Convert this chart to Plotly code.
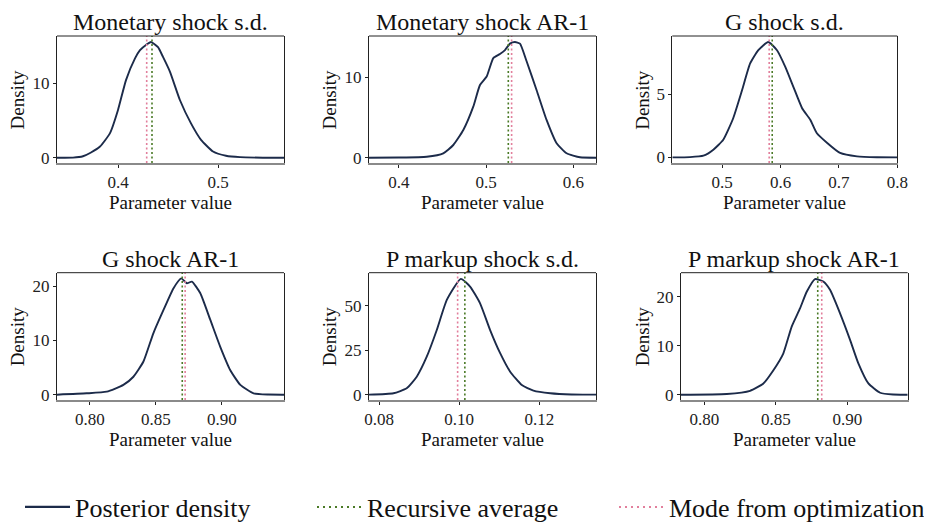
import plotly.graph_objects as go

# ---------------- data ----------------
titles = ["Monetary shock s.d.", "Monetary shock AR-1", "G shock s.d.",
          "G shock AR-1", "P markup shock s.d.", "P markup shock AR-1"]

mon_sd_x = [0.339, 0.355, 0.365, 0.373, 0.382, 0.392, 0.400, 0.408, 0.417, 0.422, 0.428, 0.433,
            0.440, 0.445, 0.452, 0.462, 0.473, 0.483, 0.495, 0.508, 0.522, 0.545, 0.566]
mon_sd_y = [0.0, 0.02, 0.2, 0.7, 1.5, 3.3, 6.4, 10.4, 13.3, 14.4, 15.1, 15.5,
            14.8, 13.5, 11.5, 7.7, 4.6, 2.4, 0.84, 0.27, 0.08, 0.01, 0.0]

mon_ar_x = [0.3656, 0.40, 0.4318, 0.4508, 0.4623, 0.4738, 0.4852, 0.4929, 0.5006, 0.5082, 0.5158,
            0.5216, 0.5273, 0.5330, 0.5388, 0.5464, 0.5579, 0.5693, 0.5808, 0.5923, 0.6076, 0.626]
mon_ar_y = [0.0, 0.02, 0.12, 0.55, 1.58, 3.45, 6.35, 9.05, 10.1, 12.4, 12.9,
            13.4, 14.2, 14.4, 14.2, 12.0, 8.4, 4.7, 1.8, 0.55, 0.05, 0.0]

g_sd_x = [0.4147, 0.445, 0.468, 0.485, 0.502, 0.519, 0.534, 0.548, 0.562, 0.579, 0.594,
          0.608, 0.622, 0.637, 0.651, 0.662, 0.680, 0.702, 0.731, 0.765, 0.800]
g_sd_y = [0.0, 0.02, 0.13, 0.61, 1.40, 3.1, 5.3, 7.45, 8.5, 9.15, 8.5,
          7.2, 5.6, 3.9, 2.98, 1.93, 1.14, 0.35, 0.08, 0.01, 0.0]

g_ar_x = [0.775, 0.7975, 0.8127, 0.8253, 0.8329, 0.8405, 0.848, 0.8557, 0.8633, 0.8691,
          0.8734, 0.8772, 0.8835, 0.8911, 0.8987, 0.9063, 0.9139, 0.924, 0.935, 0.947]
g_ar_y = [0.0, 0.25, 0.55, 1.8, 3.3, 6.1, 11.3, 15.6, 19.6, 21.4,
          20.5, 20.8, 18.7, 13.8, 8.8, 4.5, 1.8, 0.25, 0.02, 0.0]

p_sd_x = [0.0775, 0.0836, 0.0869, 0.0894, 0.0919, 0.0944, 0.0969, 0.1004, 0.1027, 0.1052,
          0.1077, 0.1102, 0.1127, 0.1156, 0.1185, 0.1227, 0.128, 0.1341]
p_sd_y = [0.0, 0.8, 3.6, 10.1, 21.3, 36.3, 53.2, 65.0, 60.7, 51.3,
          36.3, 23.3, 12.9, 5.4, 2.3, 0.8, 0.1, 0.0]

p_ar_x = [0.7837, 0.8157, 0.832, 0.8413, 0.8483, 0.8552, 0.8611, 0.8669, 0.8716, 0.8774,
          0.8832, 0.8879, 0.8949, 0.9019, 0.9077, 0.9147, 0.9229, 0.932, 0.9422]
p_ar_y = [0.0, 0.15, 0.8, 2.3, 5.0, 8.4, 13.9, 17.6, 21.0, 23.6,
          23.1, 21.4, 16.6, 11.2, 6.4, 2.3, 0.4, 0.03, 0.0]

recursive_avg = [0.434, 0.5254, 0.5858, 0.8699, 0.1014, 0.8793]
mode_opt = [0.4287, 0.5292, 0.5806, 0.8721, 0.0996, 0.8821]

x_ranges = [[0.339, 0.566], [0.3656, 0.626], [0.4147, 0.8],
            [0.775, 0.947], [0.0775, 0.1341], [0.7837, 0.9422]]
y_ranges = [[-0.7, 16.3], [-0.66, 15.15], [-0.45, 9.63],
            [-0.98, 22.45], [-3.0, 68.5], [-1.08, 24.9]]

x_tickvals = [[0.4, 0.5], [0.4, 0.5, 0.6], [0.5, 0.6, 0.7, 0.8],
              [0.80, 0.85, 0.90], [0.08, 0.10, 0.12], [0.80, 0.85, 0.90]]
x_ticktext = [["0.4", "0.5"], ["0.4", "0.5", "0.6"], ["0.5", "0.6", "0.7", "0.8"],
              ["0.80", "0.85", "0.90"], ["0.08", "0.10", "0.12"], ["0.80", "0.85", "0.90"]]
y_tickvals = [[0, 10], [0, 10], [0, 5], [0, 10, 20], [0, 25, 50], [0, 10, 20]]
y_ticktext = [["0", "10"], ["0", "10"], ["0", "5"], ["0", "10", "20"], ["0", "25", "50"], ["0", "10", "20"]]

series_x = [mon_sd_x, mon_ar_x, g_sd_x, g_ar_x, p_sd_x, p_ar_x]
series_y = [mon_sd_y, mon_ar_y, g_sd_y, g_ar_y, p_sd_y, p_ar_y]

legend_names = ["Posterior density", "Recursive average", "Mode from optimization"]

# ---------------- style ----------------
NAVY = "#1c2b4a"
GREEN = "#4a7a26"
PINK = "#e27f9c"
FONT = "Liberation Serif"
OFF = 8                      # default page margin of the html body
W, H = 932 - OFF, 522 - OFF  # figure fits the window inside that margin

# pixel layout of the axes boxes (window coordinates)
x_dom_px = [(57, 284), (369, 596), (672.3, 897.3), (57, 284), (369, 596), (681, 907.7)]
y_dom_px = [(36, 163)] * 3 + [(272.7, 400)] * 3
density_shift = [40, 40, 30, 40, 40, 39]
legend_x_px = [20, 312, 614]
legend_y_px = 507

fig = go.Figure()
layout = dict()
annotations = []
shapes = []

for i in range(6):
    n = i + 1
    xa = "x" if n == 1 else f"x{n}"
    ya = "y" if n == 1 else f"y{n}"
    fig.add_trace(go.Scatter(
        x=series_x[i], y=series_y[i], mode="lines",
        line=dict(color=NAVY, width=1.9, shape="spline", smoothing=0.5),
        xaxis=xa, yaxis=ya, showlegend=False, hoverinfo="skip"))

    # vertical reference lines
    for val, col in ((recursive_avg[i], GREEN), (mode_opt[i], PINK)):
        shapes.append(dict(type="line", xref=xa, yref=f"{ya} domain",
                           x0=val, x1=val, y0=0, y1=1,
                           line=dict(color=col, width=1.6, dash="2px,2.5px")))
    # top spine
    shapes.append(dict(type="line", xref=f"{xa} domain", yref=f"{ya} domain",
                       x0=0, x1=1, y0=1, y1=1, line=dict(color="#222222", width=1)))

    xd = [(x_dom_px[i][0] - OFF) / W, (x_dom_px[i][1] - OFF) / W]
    yd = [1 - (y_dom_px[i][1] - OFF) / H, 1 - (y_dom_px[i][0] - OFF) / H]
    axis_common = dict(showgrid=False, zeroline=False, ticks="outside", ticklen=3,
                       tickwidth=1, tickcolor="#222222",
                       tickfont=dict(family=FONT, size=17, color="#222222"))
    layout[f"xaxis{'' if n == 1 else n}"] = dict(
        domain=xd, range=x_ranges[i], anchor=ya,
        tickvals=x_tickvals[i], ticktext=x_ticktext[i],
        showline=True, linecolor="#8a8a8a", linewidth=2, mirror=False,
        **axis_common)
    layout[f"yaxis{'' if n == 1 else n}"] = dict(
        domain=yd, range=y_ranges[i], anchor=xa,
        tickvals=y_tickvals[i], ticktext=y_ticktext[i],
        showline=True, linecolor="#222222", linewidth=1, mirror=True,
        **axis_common)

    annotations.append(dict(text=titles[i], xref=f"{xa} domain", yref=f"{ya} domain",
                            x=0.5, y=1, yshift=14, xanchor="center", yanchor="middle",
                            showarrow=False, font=dict(family=FONT, size=24, color="#111111")))
    annotations.append(dict(text="Parameter value", xref=f"{xa} domain", yref=f"{ya} domain",
                            x=0.5, y=0, yshift=-39, xanchor="center", yanchor="middle",
                            showarrow=False, font=dict(family=FONT, size=19, color="#111111")))
    annotations.append(dict(text="Density", xref=f"{xa} domain", yref=f"{ya} domain",
                            x=0, y=0.5, xshift=-density_shift[i], xanchor="center",
                            yanchor="middle", textangle=-90,
                            showarrow=False, font=dict(family=FONT, size=19, color="#111111")))

# legend entries, one legend box each so they can sit where the reference has them
fig.add_trace(go.Scatter(x=[None], y=[None], mode="lines", name=legend_names[0],
                         line=dict(color=NAVY, width=2.2), legend="legend"))
fig.add_trace(go.Scatter(x=[None], y=[None], mode="lines", name=legend_names[1],
                         line=dict(color=GREEN, width=2, dash="2px,4px"), legend="legend2"))
fig.add_trace(go.Scatter(x=[None], y=[None], mode="lines", name=legend_names[2],
                         line=dict(color=PINK, width=2, dash="2px,4px"), legend="legend3"))

leg_common = dict(orientation="h", xanchor="left", xref="container", yref="container",
                  y=1 - (legend_y_px - OFF) / H, yanchor="middle",
                  font=dict(family=FONT, size=26, color="#111111"),
                  bgcolor="rgba(0,0,0,0)", itemwidth=45)

fig.update_layout(
    width=W, height=H,
    margin=dict(l=0, r=0, t=0, b=0, autoexpand=False),
    paper_bgcolor="white", plot_bgcolor="white",
    font=dict(family=FONT, color="#111111"),
    showlegend=True,
    legend=dict(x=(legend_x_px[0] - OFF) / W, **leg_common),
    legend2=dict(x=(legend_x_px[1] - OFF) / W, **leg_common),
    legend3=dict(x=(legend_x_px[2] - OFF) / W, **leg_common),
    annotations=annotations,
    shapes=shapes,
    **layout,
)

fig.write_html("out.html")
